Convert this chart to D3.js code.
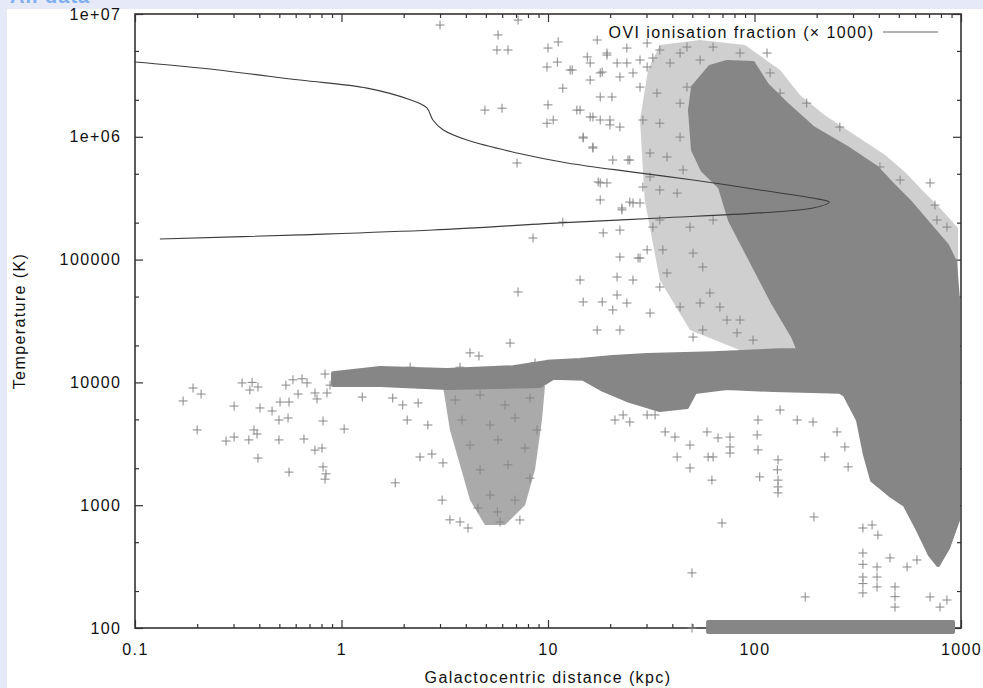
<!DOCTYPE html>
<html>
<head>
<meta charset="utf-8">
<script src="https://cdnjs.cloudflare.com/ajax/libs/d3/7.8.5/d3.min.js"></script>
<style>
  html, body { margin: 0; padding: 0; background: #e5e9f8; overflow: hidden; }
  svg { display: block; }
  text { font-family: "Liberation Sans", Arial, sans-serif; font-size: 16px; letter-spacing: 1.4px; fill: #111; }
</style>
</head>
<body>
<script>
let svg,
    svgWidth = 983,
    svgHeight = 688,
    plot = {left: 135, right: 961, top: 14, bottom: 628},
    gray = "#868686",
    xScale, yScale;

// axis ticks
let xTicks = [0.1, 1, 10, 100, 1000];
let xTickLabels = ["0.1", "1", "10", "100", "1000"];
let yTicks = [100, 1000, 1e4, 1e5, 1e6, 1e7];
let yTickLabels = ["100", "1000", "10000", "100000", "1e+06", "1e+07"];

// OVI ionisation fraction (x1000) against temperature
let oviX = [0.1, 0.207, 0.63, 1.33, 2.15, 2.59, 2.77, 3.10, 4.05, 7.08, 12.4, 25.8, 50.4, 106, 192, 230,
            192, 106, 34.8, 11.4, 2.77, 0.63, 0.132];
let oviT = [4.07e6, 3.63e6, 2.90e6, 2.49e6, 2.0e6, 1.72e6, 1.37e6, 1.14e6, 9.4e5, 7.38e5, 6.12e5, 5.16e5, 4.45e5, 3.69e5, 3.17e5, 2.94e5,
            2.63e5, 2.40e5, 2.18e5, 1.99e5, 1.74e5, 1.59e5, 1.47e5];

// outlines of the places where the particles overlap into solid grey
let blobX = [50.4, 48.7, 50.4, 60.9, 73.6, 98.4, 115, 144, 192, 281, 392, 469, 566, 684, 855, 935, 967, 967, 196, 154, 123, 92, 76, 68, 56];
let blobT = [7.8e5, 1.65e6, 2.54e6, 3.70e6, 4.07e6, 3.99e6, 2.64e6, 1.82e6, 1.18e6, 8.11e5, 5.57e5, 4.05e5, 2.94e5, 2.02e5, 1.31e5, 9.6e4, 4.69e4, 8.67e3, 8.67e3, 2.34e4, 4.43e4, 1.13e5, 2.10e5, 3.90e5, 5.37e5];

let bandX = [0.91, 1.54, 3.24, 6.77, 9.89, 14.3, 20.6, 30.2, 63.0, 133, 290, 290, 123, 73.6, 51.5, 47.1, 34.8, 24.1, 18.5, 14.8, 10.6, 9.15, 3.24, 1.54, 0.91];
let bandT = [1.19e4, 1.31e4, 1.26e4, 1.33e4, 1.47e4, 1.52e4, 1.61e4, 1.67e4, 1.73e4, 1.83e4, 1.83e4, 8.35e3, 8.67e3, 8.99e3, 8.35e3, 6.31e3, 5.96e3, 7.19e3, 8.67e3, 1.07e4, 1.09e4, 9.35e3, 8.99e3, 9.52e3, 9.52e3];

let lowX = [232, 274, 317, 343, 371, 453, 535, 619, 708, 774, 865, 967, 967];
let lowT = [9.5e3, 7.9e3, 4.94e3, 2.56e3, 1.60e3, 1.21e3, 1.0e3, 628, 393, 326, 448, 757, 9.5e3];

let floorX = [59.6, 915, 915, 59.6];
let floorT = [112, 112, 92.7, 92.7];

// half-filled areas
let plumeX = [3.10, 9.67, 9.35, 8.65, 7.74, 6.19, 4.95, 4.19, 3.75, 3.35];
let plumeT = [9.35e3, 9.35e3, 4.94e3, 1.94e3, 1.0e3, 690, 690, 1.10e3, 2.13e3, 4.10e3];

let haloX = [27.9, 30.5, 34.8, 54.5, 89.9, 133, 166, 219, 307, 429, 535, 648, 791, 967, 967, 85.1, 48.7, 34.8, 29.4];
let haloT = [1.37e6, 3.50e6, 5.59e6, 6.14e6, 5.59e6, 3.50e6, 2.19e6, 1.50e6, 1.03e6, 7.11e5, 5.17e5, 3.69e5, 2.63e5, 1.81e5, 1.83e4, 1.83e4, 2.67e4, 6.82e4, 3.06e5];

// single particles [distance kpc, temperature K]
let particles = [
    [0.171,7060],[0.191,9000],[0.209,8040],[0.200,4100],[0.302,6420],[0.330,9900],[0.369,10000],[0.360,8670],
    [0.394,9170],[0.403,6190],[0.461,5850],[0.504,6920],[0.557,6920],[0.538,9500],[0.582,10500],[0.644,10700],
    [0.616,8040],[0.681,9900],[0.744,8200],[0.761,7330],[0.832,11700],[0.851,8200],[0.880,9500],[0.498,4940],
    [0.551,5130],[0.814,4850],[1.03,4170],[0.276,3330],[0.302,3590],[0.356,3400],[0.377,4100],[0.390,3800],
    [0.394,2420],[0.498,3400],[0.658,3460],[0.744,2810],[0.805,2920],[0.557,1860],[0.814,2050],[0.841,1800],
    [0.832,1630],[1.26,7600],[1.82,1520],[1.77,7460],
    [3.35,760],[3.75,730],[4.10,652],[5.86,730],[7.31,758],[3.07,1100],[3.10,2210],[2.74,2610],[2.40,2470],
    [2.62,4500],[2.08,4940],[1.98,6550],[2.35,6800],[3.55,7190],[4.69,7900],[6.19,6550],[8.18,7460],[3.83,4940],
    [5.24,4500],[6.92,5130],[8.85,4100],[4.19,3090],[5.73,3400],[7.74,2920],[4.69,1940],[6.40,2130],[8.18,1660],
    [5.24,1210],[6.92,1100],[5.69,881],[4.58,949],[6.55,20900],[4.19,17400],[4.63,16400],[2.15,13300],[3.75,13300],
    [8.65,14400],
    [3.0,8.13e6],[7.16,8.93e6],[5.73,6.75e6],[5.66,5.09e6],[6.40,5.09e6],[10.0,5.28e6],[11.2,5.92e6],[9.89,3.70e6],
    [11.1,4.06e6],[4.95,1.65e6],[5.99,1.71e6],[10.0,1.82e6],[9.89,1.29e6],[10.6,1.37e6],[17.3,6.14e6],[15.5,4.47e6],
    [19.3,4.63e6],[7.08,6.12e5],[8.46,1.50e5],[7.16,5.45e4],[11.8,2.02e5],[17.9,3.06e5],[17.5,4.29e5],[19.3,4.21e5],
    [14.8,9.77e5],[16.5,8.1e5],[14.3,6.82e4],[14.8,4.52e4],[18.3,4.52e4],[20.6,3.89e4],[24.1,4.43e4],[22.3,1.05e5],
    [27.3,1.03e5],[22.3,1.74e5],[22.8,2.54e5],[25.8,2.89e5],[31.2,4.71e5],[20.6,6.47e5],[24.4,6.47e5],[13.8,1.65e6],
    [16.0,1.45e6],[17.9,1.37e6],[19.95,1.25e6],[22.3,1.20e6],[11.8,2.49e6],[13.1,3.50e6],[21.6,3.99e6],[24.1,3.99e6],
    [18.3,3.37e6],[16.0,2.90e6],[17.9,2.11e6],[20.4,2.11e6],[25.8,3.31e6],[30.2,3.70e6],[27.9,4.22e6],[32.2,4.38e6],
    [12.8,3.50e6],[16.0,3.99e6],[19.3,4.81e6],[17.9,3.31e6],[22.3,3.07e6],[14.3,1.65e6],[16.5,1.45e6],[19.95,1.37e6],
    [14.8,9.95e5],[16.5,8.26e5],[24.9,6.47e5],[17.9,4.21e5],[22.8,2.63e5],[24.9,2.94e5],[27.9,2.89e5],[18.5,1.65e5],
    [27.9,1.03e5],[21.6,7.21e4],[25.8,6.82e4],[21.6,5.15e4],[17.3,2.67e4],[22.3,2.67e4],[31.2,3.67e4],[34.8,5.98e4],
    [37.7,7.78e4],[30.2,1.20e5],[36.0,1.20e5],[32.2,1.84e5],[34.8,2.10e5],[28.8,3.90e5],[34.8,3.69e5],[31.2,7.38e5],
    [37.7,6.85e5],[28.8,1.37e6],[34.8,1.29e6],[27.9,2.54e6],[33.7,2.27e6],[24.1,5.28e6],[30.2,5.80e6],[34.8,5.09e6],
    [43.6,4.81e6],[39.0,3.99e6],[47.1,2.54e6],[43.6,1.88e6],[43.6,9.95e5],[45.1,5.37e5],[42.2,3.48e5],[48.7,1.84e5],
    [50.4,1.13e5],[56.2,8.7e4],[60.8,5.35e4],[68.0,4.11e4],[73.6,3.22e4],[82.3,2.53e4],[98.4,2.21e4],[63.0,2.10e5],
    [54.5,4.43e4],[50.4,2.34e4],[43.6,4.11e4],[56.2,2.67e4],[85.1,3.22e4],
    [47.1,5.38e6],[54.5,4.22e6],[63.0,5.38e6],[85.1,4.81e6],[115,4.81e6],[119,3.31e6],[133,2.27e6],[179,1.88e6],
    [259,1.20e6],[405,5.68e5],[507,4.45e5],[708,4.21e5],[748,2.78e5],[855,1.84e5],[765,2.10e5],
    [21.1,4940],[23.1,5430],[24.9,4760],[30.2,5430],[33.0,5430],[36.9,3950],[41.2,3590],[42.2,2470],[48.7,3090],
    [48.7,2010],[49.8,281],[58.9,3950],[59.6,2470],[63.0,2470],[62.2,1600],[66.6,3530],[69.6,716],[76.1,3590],
    [76.1,2980],[76.1,2660],[103,3730],[104,2820],[106,1700],[104,4940],[129,1940],[130,1600],[130,1260],[130,2340],
    [130,1410],[133,5960],[161,4940],[192,4760],[176,179],[194,802],[219,2470],[251,3950],[274,2980],[284,2050],
    [335,652],[371,690],[335,408],[335,260],[335,193],[335,230],[335,330],[392,314],[392,216],[392,260],[479,216],
    [479,148],[479,180],[453,372],[396,571],[708,179],[791,148],[855,169],[548,314],[612,358],[49.8,100]
];

function init() {
    drawSvgContainer();
    xScale = d3.scaleLog().domain([0.1, 1000]).range([plot.left, plot.right]);
    yScale = d3.scaleLog().domain([100, 1e7]).range([plot.bottom, plot.top]);
    drawAxes();
    drawRegion(haloX, haloT, 0.4, false);
    drawRegion(plumeX, plumeT, 0.7, false);
    drawRegion(blobX, blobT, 1, true);
    drawRegion(bandX, bandT, 1, true);
    drawRegion(lowX, lowT, 1, true);
    drawRegion(floorX, floorT, 1, true);
    drawPoints(particles, gray);
    drawCurve();
    drawLabels();
}

function drawSvgContainer() {
    svg = d3.select("body").append("svg")
        .attr("width", svgWidth)
        .attr("height", svgHeight);
    svg.append("rect").attr("width", svgWidth).attr("height", svgHeight).attr("fill", "#e5e9f8");
    svg.append("text")
        .attr("x", 10).attr("y", 3)
        .style("font-size", "20px").style("font-weight", "bold").style("letter-spacing", "1px")
        .style("fill", "#7eaef0")
        .text("All data");
    svg.append("rect").attr("x", 7).attr("y", 9)
        .attr("width", svgWidth - 7).attr("height", svgHeight - 9).attr("fill", "#fff");
}

function styleAxis(g) {
    g.select(".domain").remove();
    g.selectAll(".tick line").attr("stroke", "#333").attr("stroke-width", 1.2);
    g.selectAll(".tick text").attr("fill", "#111").style("font-size", "16px");
}

function drawAxes() {
    let xMinor = xScale.ticks().filter(d => xTicks.indexOf(d) < 0);
    let yMinor = yScale.ticks().filter(d => {
        let lead = Math.round(d / Math.pow(10, Math.floor(Math.log10(d) + 1e-9)));
        return lead === 2 || lead === 5;
    });

    let layers = [
        [d3.axisBottom, xScale, "translate(0," + plot.bottom + ")", true],
        [d3.axisTop, xScale, "translate(0," + plot.top + ")", false],
        [d3.axisLeft, yScale, "translate(" + plot.left + ",0)", true],
        [d3.axisRight, yScale, "translate(" + plot.right + ",0)", false]
    ];
    layers.forEach(([axisFn, scale, transform, labelled]) => {
        let isX = scale === xScale;
        let major = axisFn(scale)
            .tickValues(isX ? xTicks : yTicks)
            .tickFormat((d, i) => labelled ? (isX ? xTickLabels[i] : yTickLabels[i]) : "")
            .tickSizeInner(-8).tickSizeOuter(0)
            .tickPadding(isX ? 15.5 : 13.6);
        let minor = axisFn(scale)
            .tickValues(isX ? xMinor : yMinor)
            .tickFormat("")
            .tickSizeInner(-4).tickSizeOuter(0);
        svg.append("g").attr("transform", transform).call(major).call(styleAxis);
        svg.append("g").attr("transform", transform).call(minor).call(styleAxis);
    });

    svg.append("rect")
        .attr("x", plot.left).attr("y", plot.top)
        .attr("width", plot.right - plot.left).attr("height", plot.bottom - plot.top)
        .attr("fill", "none").attr("stroke", "#333").attr("stroke-width", 1.6);
}

function drawRegion(xs, ts, opacity, edged) {
    let pts = xs.map((x, i) => [x, ts[i]]);
    let line = d3.line()
        .x(d => xScale(d[0]))
        .y(d => yScale(d[1]))
        .curve(d3.curveLinearClosed);
    svg.append("path")
        .datum(pts)
        .attr("d", line)
        .attr("fill", gray)
        .attr("fill-opacity", opacity)
        .attr("stroke", edged ? gray : "none")
        .attr("stroke-width", 4)
        .attr("stroke-linejoin", "round");
}

function drawPoints(points, color) {
    svg.append("g")
        .selectAll("path")
        .data(points)
        .join("path")
        .attr("d", d => {
            let cx = xScale(d[0]), cy = yScale(d[1]);
            return "M" + (cx - 4.5) + "," + cy + "h9M" + cx + "," + (cy - 4.5) + "v9";
        })
        .attr("stroke", color)
        .attr("stroke-width", 1)
        .attr("fill", "none");
}

function drawCurve() {
    let pts = oviX.map((x, i) => [x, oviT[i]]);
    let line = d3.line()
        .x(d => xScale(d[0]))
        .y(d => yScale(d[1]))
        .curve(d3.curveCatmullRom.alpha(0.5));
    svg.append("path")
        .datum(pts)
        .attr("d", line)
        .attr("fill", "none")
        .attr("stroke", "#3c3c3c")
        .attr("stroke-width", 1.1);
}

function drawLabels() {
    svg.append("text")
        .attr("x", (plot.left + plot.right) / 2)
        .attr("y", 683)
        .attr("text-anchor", "middle")
        .text("Galactocentric distance (kpc)");
    svg.append("text")
        .attr("transform", "translate(25," + (plot.top + plot.bottom) / 2 + ") rotate(-90)")
        .attr("text-anchor", "middle")
        .text("Temperature (K)");

    // legend
    svg.append("text")
        .attr("x", 874.4)
        .attr("y", 38)
        .attr("text-anchor", "end")
        .text("OVI ionisation fraction (\u00d7 1000)");
    svg.append("line")
        .attr("x1", 883).attr("x2", 938)
        .attr("y1", 32).attr("y2", 32)
        .attr("stroke", "#999")
        .attr("stroke-width", 1.6);
}

init();
</script>
</body>
</html>
